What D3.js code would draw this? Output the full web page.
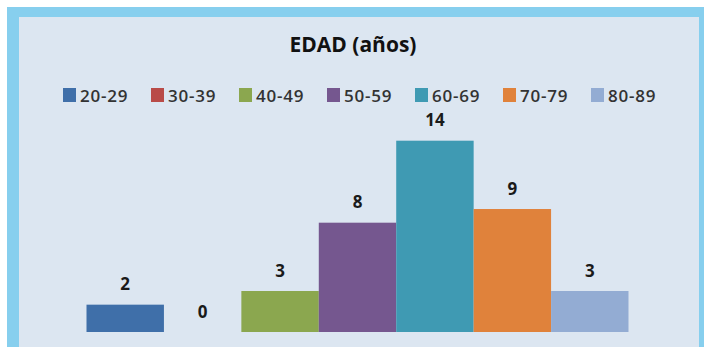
<!DOCTYPE html>
<html>
<head>
<meta charset="utf-8">
<script src="https://cdn.jsdelivr.net/npm/d3@7"></script>
<style>
  html, body { margin: 0; padding: 0; background: #ffffff; }
  svg { display: block; }
</style>
</head>
<body>
<svg id="chart" width="704" height="347"></svg>
<script>
// ---- data ----
const categories = ["20-29", "30-39", "40-49", "50-59", "60-69", "70-79", "80-89"];
const values = [2, 0, 3, 8, 14, 9, 3];
const colors = ["#3f6fa9", "#b94b48", "#8ba74f", "#75578f", "#3f9ab3", "#e0823b", "#93acd3"];
const title = "EDAD (años)";

const svg = d3.select("#chart");
const W = 704, H = 347;

// frame
svg.append("rect").attr("x", 7).attr("y", 7).attr("width", W - 7).attr("height", H - 7).attr("fill", "#87cfee");
svg.append("rect").attr("x", 19).attr("y", 17).attr("width", 699 - 19).attr("height", H - 17).attr("fill", "#dce6f1");

// title
svg.append("text")
  .attr("x", 353).attr("y", 52)
  .attr("text-anchor", "middle")
  .attr("font-family", "'Open Sans', sans-serif")
  .attr("font-weight", 700)
  .attr("font-size", 21)
  .attr("fill", "#111")
  .text(title);

// legend
const legendX = d3.scaleBand().domain(categories).range([63, 63 + 88 * 7]);
const leg = svg.append("g").selectAll("g").data(categories).join("g")
  .attr("transform", d => `translate(${legendX(d)},0)`);
leg.append("rect").attr("x", 0).attr("y", 88).attr("width", 13).attr("height", 14)
  .attr("fill", (d, i) => colors[i]);
leg.append("text").attr("x", 17).attr("y", 101.5)
  .attr("font-family", "'Open Sans', sans-serif")
  .attr("font-weight", 600)
  .attr("font-size", 17)
  .attr("letter-spacing", 0.8)
  .attr("fill", "#333")
  .text(d => d);

// scales
const x = d3.scaleBand().domain(categories).range([86.5, 628.5]).padding(0);
const y = d3.scaleLinear().domain([0, 14]).range([332, 140.7]);

const g = svg.append("g");
g.selectAll("rect.bar").data(categories).join("rect")
  .attr("class", "bar")
  .attr("x", d => x(d))
  .attr("width", x.bandwidth())
  .attr("y", (d, i) => y(values[i]))
  .attr("height", (d, i) => y(0) - y(values[i]))
  .attr("fill", (d, i) => colors[i]);

g.selectAll("text.lbl").data(categories).join("text")
  .attr("class", "lbl")
  .attr("x", d => x(d) + x.bandwidth() / 2)
  .attr("y", (d, i) => y(values[i]) - 14.5)
  .attr("text-anchor", "middle")
  .attr("font-family", "'Open Sans', sans-serif")
  .attr("font-weight", 700)
  .attr("font-size", 17)
  .attr("fill", "#1a1a1a")
  .text((d, i) => values[i]);
</script>
</body>
</html>
